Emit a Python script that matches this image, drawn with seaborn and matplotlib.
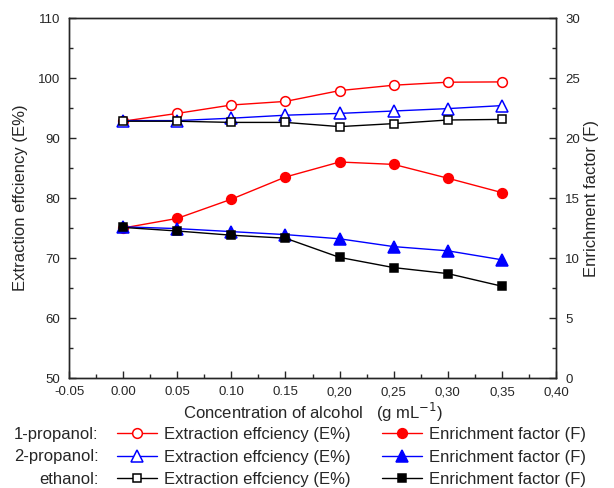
import numpy as np
import pandas as pd
import matplotlib
matplotlib.use("Agg")
import matplotlib.pyplot as plt
from matplotlib.ticker import MultipleLocator, FixedLocator, FixedFormatter
import seaborn as sns

# ----------------------------
# Data
# ----------------------------
conc = [0.00, 0.05, 0.10, 0.15, 0.20, 0.25, 0.30, 0.35]

# extraction efficiency (E%), left axis
e_1prop = [92.8, 94.1, 95.5, 96.1, 97.9, 98.8, 99.3, 99.35]
e_2prop = [92.9, 92.9, 93.3, 93.8, 94.1, 94.5, 94.9, 95.4]
e_eth = [92.8, 92.8, 92.6, 92.6, 91.9, 92.4, 93.0, 93.1]

# enrichment factor (F), right axis
f_1prop = [12.5, 13.3, 14.9, 16.75, 18.0, 17.8, 16.65, 15.45]
f_2prop = [12.6, 12.45, 12.2, 11.95, 11.6, 10.95, 10.6, 9.85]
f_eth = [12.55, 12.25, 11.9, 11.65, 10.05, 9.2, 8.7, 7.65]

alcohols = ["1-propanol:", "2-propanol:", "ethanol:"]
colors = ["#ff0000", "#0000ff", "#000000"]
markers = ["o", "^", "s"]
msizes = [7, 8.5, 5.8]

xtick_vals = [-0.05, 0.00, 0.05, 0.10, 0.15, 0.20, 0.25, 0.30, 0.35, 0.40]
xtick_labels = ["-0.05", "0.00", "0.05", "0.10", "0.15", "0,20", "0,25", "0,30", "0,35", "0,40"]

# ----------------------------
# Plot
# ----------------------------
sns.set_style("ticks")
plt.rcParams["font.family"] = ["Liberation Sans", "DejaVu Sans"]
plt.rcParams["xtick.direction"] = "in"
plt.rcParams["ytick.direction"] = "in"

fig = plt.figure(figsize=(6.14, 4.88), dpi=100)
ax = fig.add_axes([0.1124, 0.2254, 0.7932, 0.7377])
ax2 = ax.twinx()

e_series = [e_1prop, e_2prop, e_eth]
f_series = [f_1prop, f_2prop, f_eth]

e_handles = []
f_handles = []
for i in range(3):
    df_e = pd.DataFrame({"conc": conc, "val": e_series[i]})
    sns.lineplot(data=df_e, x="conc", y="val", ax=ax, color=colors[i], lw=1,
                 marker=markers[i], markersize=msizes[i], markerfacecolor="white",
                 markeredgecolor=colors[i], markeredgewidth=1.1)
    e_handles.append(ax.lines[-1])

    df_f = pd.DataFrame({"conc": conc, "val": f_series[i]})
    sns.lineplot(data=df_f, x="conc", y="val", ax=ax2, color=colors[i], lw=1,
                 marker=markers[i], markersize=msizes[i], markerfacecolor=colors[i],
                 markeredgecolor=colors[i], markeredgewidth=1.1)
    f_handles.append(ax2.lines[-1])

ax.set_xlim(-0.05, 0.40)
ax.set_ylim(50, 110)
ax2.set_ylim(0, 30)

ax.xaxis.set_major_locator(FixedLocator(xtick_vals))
ax.xaxis.set_major_formatter(FixedFormatter(xtick_labels))
ax.xaxis.set_minor_locator(MultipleLocator(0.025))
ax.yaxis.set_major_locator(MultipleLocator(10))
ax.yaxis.set_minor_locator(MultipleLocator(5))
ax2.yaxis.set_major_locator(MultipleLocator(5))
ax2.yaxis.set_minor_locator(MultipleLocator(2.5))

for a in (ax, ax2):
    a.tick_params(which="major", length=5, width=1, labelsize=9.5, pad=6.5)
    a.tick_params(which="minor", length=3, width=1)
    for s in a.spines.values():
        s.set_linewidth(1)
        s.set_visible(True)
ax.tick_params(axis="x", top=False, which="both", pad=6)

ax.set_xlabel("Concentration of alcohol   (g mL$^{-1}$)", fontsize=12, labelpad=2)
ax.set_ylabel("Extraction effciency (E%)", fontsize=12)
ax.yaxis.set_label_coords(-0.084, 0.5)
ax2.set_ylabel("Enrichment factor (F)", fontsize=12, labelpad=3)

# legend below the plot: two columns, row labels on the left
labels_e = ["Extraction effciency (E%)"] * 3
labels_f = ["Enrichment factor (F)"] * 3
leg_kw = dict(frameon=False, loc="center left", handlelength=2.4,
              handletextpad=0.4, labelspacing=0.45, borderaxespad=0,
              borderpad=0, prop={"size": 12})
fig.legend(e_handles, labels_e, bbox_to_anchor=(0.1906, 0.0635), **leg_kw)
fig.legend(f_handles, labels_f, bbox_to_anchor=(0.622, 0.0635), **leg_kw)

row_y = [434, 456, 479]
for name, y in zip(alcohols, row_y):
    fig.text(0.1605, 1 - y / 488, name, ha="right", va="center", fontsize=12)

fig.savefig("out.png", dpi=100)
